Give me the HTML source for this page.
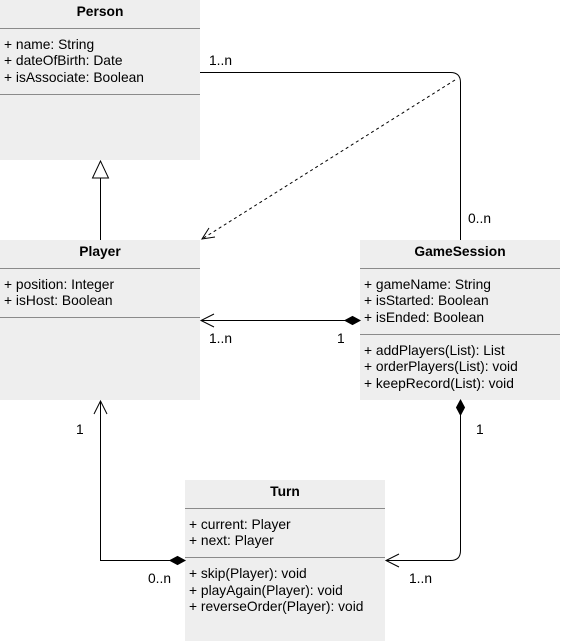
<!DOCTYPE html>
<html><head><meta charset="utf-8"><style>
html,body{margin:0;padding:0;background:#fff;}
svg{display:block;}
text{font-family:"Liberation Sans",Arial,sans-serif;font-size:13.8px;fill:#000;}
.b{font-weight:bold;}
</style></head><body>
<svg width="561" height="641" viewBox="0 0 561 641" xmlns="http://www.w3.org/2000/svg">
<!-- Person -->
<rect x="0" y="0" width="200" height="160" fill="#eeeeee"/>
<line x1="0" y1="28.5" x2="200" y2="28.5" stroke="#8a8a8a"/>
<line x1="0" y1="94.5" x2="200" y2="94.5" stroke="#8a8a8a"/>
<text x="100" y="16" text-anchor="middle" class="b">Person</text>
<text x="4" y="49">+ name: String</text>
<text x="4" y="65">+ dateOfBirth: Date</text>
<text x="4" y="82">+ isAssociate: Boolean</text>

<!-- Player -->
<rect x="0" y="240" width="200" height="160" fill="#eeeeee"/>
<line x1="0" y1="268.5" x2="200" y2="268.5" stroke="#8a8a8a"/>
<line x1="0" y1="317.5" x2="200" y2="317.5" stroke="#8a8a8a"/>
<text x="100" y="256" text-anchor="middle" class="b">Player</text>
<text x="4" y="289">+ position: Integer</text>
<text x="4" y="305">+ isHost: Boolean</text>

<!-- GameSession -->
<rect x="360" y="240" width="200" height="160" fill="#eeeeee"/>
<line x1="360" y1="268.5" x2="560" y2="268.5" stroke="#8a8a8a"/>
<line x1="360" y1="334.5" x2="560" y2="334.5" stroke="#8a8a8a"/>
<text x="460" y="256" text-anchor="middle" class="b">GameSession</text>
<text x="364" y="289">+ gameName: String</text>
<text x="364" y="305">+ isStarted: Boolean</text>
<text x="364" y="322">+ isEnded: Boolean</text>
<text x="364" y="355">+ addPlayers(List): List</text>
<text x="364" y="371">+ orderPlayers(List): void</text>
<text x="364" y="388">+ keepRecord(List): void</text>

<!-- Turn -->
<rect x="185" y="480" width="200" height="161" fill="#eeeeee"/>
<line x1="185" y1="508.5" x2="385" y2="508.5" stroke="#8a8a8a"/>
<line x1="185" y1="557.5" x2="385" y2="557.5" stroke="#8a8a8a"/>
<text x="285" y="496" text-anchor="middle" class="b">Turn</text>
<text x="189" y="529">+ current: Player</text>
<text x="189" y="545">+ next: Player</text>
<text x="189" y="578">+ skip(Player): void</text>
<text x="189" y="595">+ playAgain(Player): void</text>
<text x="189" y="611">+ reverseOrder(Player): void</text>

<!-- Inheritance -->
<line x1="100.5" y1="240" x2="100.5" y2="178" stroke="#000"/>
<polygon points="100.5,161 92.5,178 108.5,178" fill="#fff" stroke="#000"/>

<!-- Person - GameSession -->
<path d="M200 72.5 H450.5 Q460.5 72.5 460.5 82.5 V240" fill="none" stroke="#000"/>
<text x="209" y="65">1..n</text>
<text x="468" y="223">0..n</text>

<!-- Dashed -->
<line x1="455" y1="80" x2="202" y2="239" stroke="#000" stroke-dasharray="3,3"/>
<polyline points="209,228 202,239 215,237" fill="none" stroke="#000"/>

<!-- GameSession - Player -->
<line x1="201" y1="320.5" x2="345" y2="320.5" stroke="#000"/>
<polyline points="214,314 201,320.5 214,327" fill="none" stroke="#000"/>
<polygon points="345,320.5 352.5,316.5 360,320.5 352.5,324.5" fill="#000" stroke="#000"/>
<text x="209" y="343">1..n</text>
<text x="337" y="343">1</text>

<!-- Player - Turn -->
<path d="M100.5 401 V560.5 H170" fill="none" stroke="#000"/>
<polyline points="94,414 100.5,401 107,414" fill="none" stroke="#000"/>
<polygon points="170,560.5 177.5,556.5 185,560.5 177.5,564.5" fill="#000" stroke="#000"/>
<text x="76" y="434">1</text>
<text x="148" y="583">0..n</text>

<!-- GameSession - Turn -->
<path d="M460.5 415 V550.5 Q460.5 560.5 450.5 560.5 H386" fill="none" stroke="#000"/>
<polygon points="460.5,400 464.5,407.5 460.5,415 456.5,407.5" fill="#000" stroke="#000"/>
<polyline points="399,554 386,560.5 399,567" fill="none" stroke="#000"/>
<text x="476" y="434">1</text>
<text x="409" y="583">1..n</text>
</svg>
</body></html>
